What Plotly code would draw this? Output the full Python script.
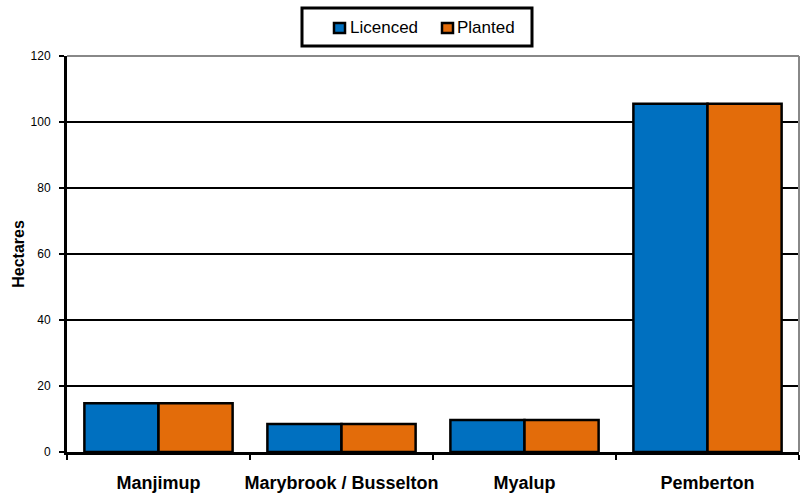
import plotly.graph_objects as go

categories = ["Manjimup", "Marybrook / Busselton", "Myalup", "Pemberton"]
licenced = [14.8, 8.5, 9.7, 105.5]
planted = [14.8, 8.5, 9.7, 105.5]
y_ticks = [0, 20, 40, 60, 80, 100, 120]
series_names = ["Licenced", "Planted"]

BLUE = "#0070C0"
ORANGE = "#E36C0A"
FONT = "Liberation Sans, Arial, sans-serif"

# plot area in pixels
L, R, T, B = 67, 799, 56, 452
W, H = 810, 496


def px(x):
    return (x - L) / (R - L)


def py(y):
    return (B - y) / (B - T)


fig = go.Figure()
for name, vals, col in [(series_names[0], licenced, BLUE), (series_names[1], planted, ORANGE)]:
    fig.add_trace(go.Bar(name=name, x=categories, y=vals, showlegend=False,
                         marker=dict(color=col, line=dict(color="black", width=2.5))))

fig.update_layout(
    width=W, height=H,
    margin=dict(l=L, r=W - R, t=T, b=H - B),
    paper_bgcolor="white", plot_bgcolor="white",
    barmode="group", bargap=0.19, bargroupgap=0,
    font=dict(family=FONT, color="black", size=12),
    showlegend=False,
    xaxis=dict(showline=True, linecolor="black", linewidth=3, automargin=False,
               ticks="outside", tickson="boundaries", ticklen=5, tickwidth=2, tickcolor="black",
               tickangle=0,
               tickfont=dict(size=18, family=FONT, weight="bold"),
               ticklabelstandoff=12, showgrid=False),
    yaxis=dict(range=[0, 120], tickvals=y_ticks, showline=True, linecolor="black", linewidth=3,
               automargin=False,
               ticks="outside", ticklen=5, tickwidth=2, tickcolor="black",
               ticklabelstandoff=6,
               showgrid=True, gridcolor="black", gridwidth=2, zeroline=False,
               tickfont=dict(size=12, family=FONT),
               title=dict(text="Hectares", font=dict(size=16, family=FONT, weight="bold"), standoff=2)),
)

# gray top/right border
fig.add_shape(type="line", xref="paper", yref="paper", x0=0, x1=1, y0=1, y1=1,
              line=dict(color="#888888", width=2))
fig.add_shape(type="line", xref="paper", yref="paper", x0=1, x1=1, y0=0, y1=1,
              line=dict(color="#888888", width=2))

# manual legend
fig.add_shape(type="rect", xref="paper", yref="paper",
              x0=px(302), x1=px(532), y0=py(46), y1=py(8),
              line=dict(color="black", width=3), fillcolor="white")
for (sx, tx, col, name) in [(333, 348, BLUE, series_names[0]), (441, 455, ORANGE, series_names[1])]:
    fig.add_shape(type="rect", xref="paper", yref="paper",
                  x0=px(sx + 1), x1=px(sx + 12), y0=py(33), y1=py(23),
                  line=dict(color="black", width=2.5), fillcolor=col)
    fig.add_annotation(xref="paper", yref="paper", x=px(tx), y=py(28),
                       xanchor="left", yanchor="middle", showarrow=False,
                       text=name, font=dict(size=17, family=FONT, color="black"))

fig.write_html("out.html")
